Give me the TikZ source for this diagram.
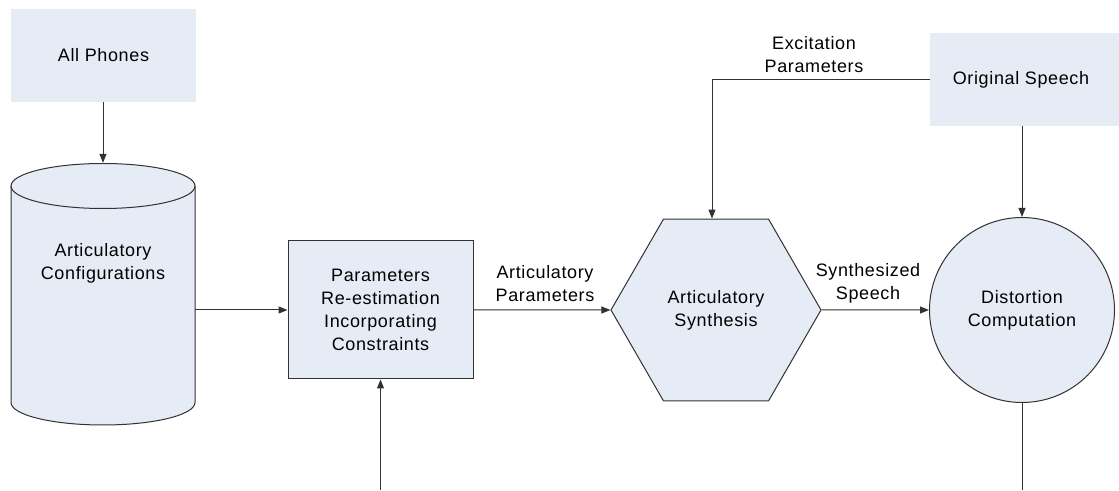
\documentclass[tikz,border=0pt]{standalone}
\usepackage{fontspec}
\setmainfont{Liberation Sans}[LetterSpace=3.5]
\usetikzlibrary{arrows.meta,shapes.geometric,calc}
\definecolor{boxfill}{RGB}{230,236,246}
\definecolor{edge}{RGB}{50,50,50}
\tikzset{
  txt/.style={font=\fontsize{18}{23}\selectfont, align=center, text=black},
  blockfill/.style={fill=boxfill, draw=none, inner sep=0pt},
  block/.style={fill=boxfill, draw=edge, line width=1pt, inner sep=0pt},
  link/.style={draw=edge, line width=1pt},
  arr/.style={link, -{Triangle[length=9pt,width=7pt]}},
  lbl/.style={txt, inner sep=0pt},
}
\begin{document}
\begin{tikzpicture}[x=1pt,y=1pt]
\useasboundingbox (0,0) rectangle (1119,490);
\fill[white] (0,0) rectangle (1119,490);

% source box of phone inventory
\node[blockfill, txt, minimum width=185pt, minimum height=93pt] (phones) at (103.5,434.5) {All Phones};

% database cylinder
\node[inner sep=0pt, minimum width=184pt, minimum height=262pt] (cyl) at (103,196) {};
\fill[boxfill] (11,304) -- (11,87.5) arc[start angle=180,end angle=360,x radius=92,y radius=22.5]
  -- (195,304) arc[start angle=0,end angle=180,x radius=92,y radius=22.5] -- cycle;
\draw[link] (11,304) -- (11,87.5) arc[start angle=180,end angle=360,x radius=92,y radius=22.5] -- (195,304);
\draw[link] (103,304) ellipse[x radius=92, y radius=22.5];
\node[txt] (cyltext) at (103,226.5) {Articulatory\\Configurations};

% re-estimation block
\node[block, txt, minimum width=185pt, minimum height=138pt] (param) at (380.5,180) {Parameters\\Re-estimation\\Incorporating\\Constraints};

% synthesis hexagon
\node[block, txt, regular polygon, regular polygon sides=6, minimum size=210pt] (hex) at (716,180) {Articulatory\\Synthesis};

% distortion circle
\node[block, txt, circle, minimum size=185pt] (circ) at (1022,180) {Distortion\\Computation};

% reference speech box, running off the right edge
\node[blockfill, minimum width=189pt, minimum height=93pt, anchor=west] (orig) at (930,410.5) {};
\node[txt] (origtext) at (1021,410.5) {Original Speech};

% free ends at the lower edge
\coordinate (pin) at (380.5,0);
\coordinate (pout) at (1022,0);

% connectors
\draw[arr] (phones.south -| cyl.north) -- (cyl.north);
\draw[arr] (cyl.east |- param.west) -- (param.west);
\draw[arr] (pin) -- (param.south);
\draw[arr] (param.east) -- (hex.west);
\draw[arr] (hex.east) -- (circ.west);
\draw[arr] (orig.west) -| ([xshift=-4pt]hex.north);
\draw[arr] (orig.south -| circ.north) -- (circ.north);
\draw[link] (circ.south) -- (pout);

% connector labels
\node[lbl] (lblart) at (545,206.5) {Articulatory\\Parameters};
\node[lbl] (lblsyn) at (868,206.5) {Synthesized\\Speech};
\node[lbl] (lblexc) at (814,435) {Excitation\\Parameters};
\end{tikzpicture}
\end{document}
